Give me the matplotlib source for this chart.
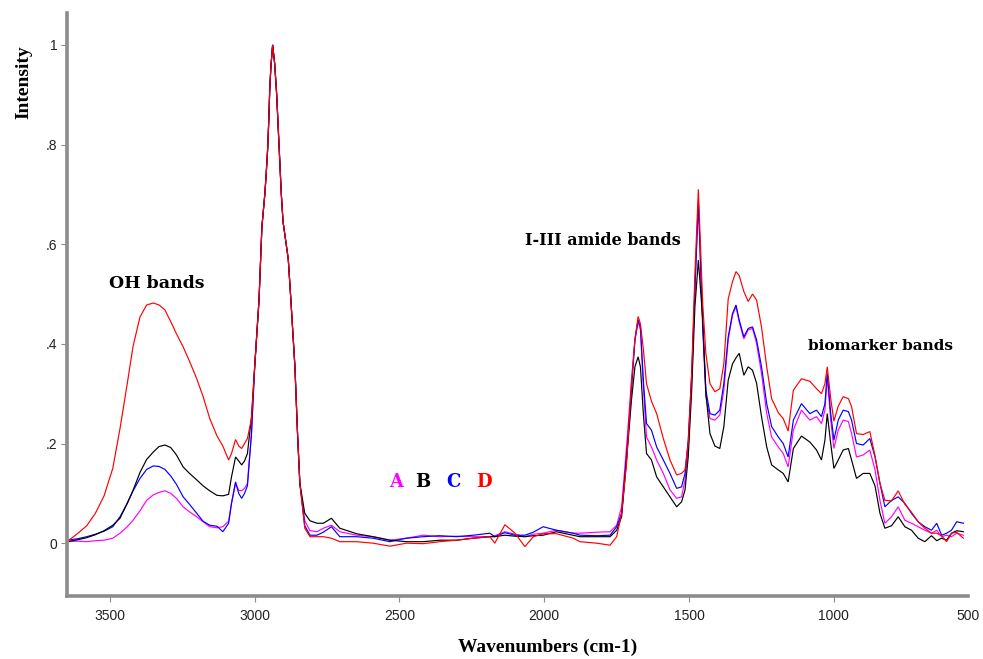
import matplotlib
matplotlib.use('Agg')
import matplotlib.pyplot as plt

# ---------------- data ----------------
wavenumber = [
    3648, 3610, 3580, 3550, 3520, 3490, 3465, 3440, 3420, 3396,
    3373, 3350, 3330, 3310, 3290, 3270, 3247, 3225, 3200, 3178,
    3155, 3130, 3110, 3090, 3080, 3066, 3055, 3045, 3035, 3025,
    3011,
    3000, 2985, 2975, 2965, 2960, 2955, 2951, 2948, 2944, 2938,
    2931, 2924, 2917, 2908, 2902, 2896, 2884, 2875, 2861, 2852,
    2844, 2827,
    2809, 2785, 2763, 2735, 2706, 2648, 2591, 2533, 2476, 2418,
    2361, 2303, 2245, 2188, 2171, 2136, 2101, 2067, 2038, 2004,
    1958, 1900, 1877,
    1819, 1773, 1750, 1733, 1716, 1699, 1687, 1676, 1668, 1658,
    1647, 1630, 1612, 1589, 1566, 1543, 1526, 1514, 1503, 1491,
    1480, 1468, 1453, 1442, 1428, 1411, 1394, 1380, 1365, 1350,
    1338, 1327, 1311, 1296, 1281, 1267, 1250, 1232, 1215, 1192,
    1175, 1158, 1140, 1112, 1083, 1060, 1043, 1031, 1023, 1011,
    1000, 985, 968, 950, 939, 922, 899, 876, 858, 841,
    824, 801, 778, 755, 732, 709, 686, 663, 645, 628,
    611, 594, 576, 553,
]

series_A = [  # magenta
    0.003, 0.004, 0.003, 0.005, 0.006, 0.010, 0.020, 0.033, 0.046, 0.065,
    0.086, 0.097, 0.102, 0.105, 0.100, 0.090, 0.073, 0.063, 0.053, 0.043,
    0.033, 0.031, 0.033, 0.044, 0.080, 0.120, 0.106, 0.105, 0.110, 0.120,
    0.220,
    0.354, 0.488, 0.635, 0.700, 0.743, 0.793, 0.853, 0.910, 0.956, 1.000,
    0.963, 0.900, 0.813, 0.700, 0.645, 0.620, 0.570, 0.488, 0.354, 0.220,
    0.120, 0.045,
    0.025, 0.023, 0.030, 0.036, 0.023, 0.016, 0.013, 0.006, 0.010, 0.016,
    0.013, 0.014, 0.013, 0.013, 0.015, 0.023, 0.018, 0.013, 0.018, 0.020,
    0.026, 0.020, 0.020,
    0.022, 0.023, 0.036, 0.073, 0.193, 0.327, 0.408, 0.444, 0.428, 0.314,
    0.213, 0.193, 0.167, 0.140, 0.107, 0.090, 0.093, 0.127, 0.193, 0.327,
    0.508, 0.690, 0.428, 0.294, 0.250, 0.247, 0.257, 0.307, 0.408, 0.458,
    0.475, 0.444, 0.410, 0.428, 0.431, 0.401, 0.341, 0.260, 0.213, 0.193,
    0.180, 0.153, 0.227, 0.267, 0.247, 0.254, 0.240, 0.267, 0.334, 0.247,
    0.190, 0.227, 0.247, 0.244, 0.220, 0.173, 0.177, 0.187, 0.147, 0.086,
    0.040, 0.053, 0.073, 0.046, 0.040, 0.033, 0.026, 0.020, 0.026, 0.013,
    0.016, 0.013, 0.020, 0.016,
]

series_B = [  # black
    0.003, 0.007, 0.011, 0.017, 0.025, 0.036, 0.050, 0.080, 0.106, 0.142,
    0.168, 0.183, 0.194, 0.197, 0.192, 0.177, 0.153, 0.140, 0.127, 0.115,
    0.105, 0.096, 0.095, 0.098, 0.133, 0.173, 0.165, 0.157, 0.165, 0.180,
    0.254,
    0.354, 0.488, 0.635, 0.700, 0.743, 0.793, 0.853, 0.910, 0.956, 1.000,
    0.963, 0.900, 0.813, 0.700, 0.645, 0.620, 0.570, 0.488, 0.354, 0.220,
    0.120, 0.060,
    0.045, 0.040, 0.040, 0.050, 0.030, 0.019, 0.013, 0.006, 0.003, 0.003,
    0.006, 0.006, 0.010, 0.013, 0.013, 0.016, 0.014, 0.013, 0.015, 0.016,
    0.023, 0.016, 0.013,
    0.013, 0.013, 0.026, 0.053, 0.167, 0.287, 0.354, 0.374, 0.354, 0.260,
    0.180, 0.167, 0.133, 0.113, 0.093, 0.073, 0.083, 0.107, 0.173, 0.307,
    0.474, 0.568, 0.450, 0.300, 0.220, 0.195, 0.190, 0.234, 0.327, 0.360,
    0.372, 0.381, 0.337, 0.354, 0.347, 0.321, 0.254, 0.193, 0.157, 0.147,
    0.140, 0.123, 0.190, 0.215, 0.203, 0.187, 0.167, 0.207, 0.260, 0.200,
    0.150, 0.167, 0.187, 0.190, 0.167, 0.130, 0.140, 0.140, 0.115, 0.060,
    0.030, 0.035, 0.053, 0.033, 0.026, 0.010, 0.003, 0.015, 0.005, 0.010,
    0.006, 0.020, 0.025, 0.023,
]

series_C = [  # blue
    0.006, 0.009, 0.013, 0.018, 0.024, 0.033, 0.053, 0.080, 0.105, 0.130,
    0.148, 0.155, 0.154, 0.148, 0.135, 0.118, 0.093, 0.078, 0.060, 0.044,
    0.036, 0.034, 0.023, 0.040, 0.080, 0.123, 0.100, 0.090, 0.100, 0.115,
    0.220,
    0.354, 0.488, 0.635, 0.700, 0.743, 0.793, 0.853, 0.910, 0.956, 1.000,
    0.963, 0.900, 0.813, 0.700, 0.645, 0.620, 0.570, 0.488, 0.354, 0.220,
    0.120, 0.035,
    0.016, 0.016, 0.022, 0.033, 0.013, 0.013, 0.010, 0.003, 0.010, 0.013,
    0.015, 0.013, 0.016, 0.020, 0.013, 0.021, 0.016, 0.016, 0.022, 0.033,
    0.026, 0.020, 0.016,
    0.015, 0.016, 0.033, 0.060, 0.173, 0.307, 0.408, 0.448, 0.434, 0.327,
    0.240, 0.227, 0.193, 0.167, 0.140, 0.110, 0.113, 0.140, 0.207, 0.341,
    0.508, 0.683, 0.441, 0.307, 0.260, 0.257, 0.267, 0.321, 0.414, 0.461,
    0.478, 0.448, 0.414, 0.431, 0.434, 0.408, 0.354, 0.280, 0.234, 0.213,
    0.200, 0.173, 0.247, 0.280, 0.260, 0.267, 0.254, 0.280, 0.341, 0.260,
    0.207, 0.247, 0.267, 0.264, 0.247, 0.200, 0.197, 0.210, 0.173, 0.120,
    0.073, 0.086, 0.093, 0.080, 0.060, 0.043, 0.033, 0.026, 0.040, 0.016,
    0.020, 0.026, 0.043, 0.040,
]

series_D = [  # red
    0.003, 0.020, 0.035, 0.060, 0.095, 0.150, 0.230, 0.320, 0.395, 0.454,
    0.478, 0.482, 0.478, 0.468, 0.445, 0.420, 0.394, 0.365, 0.330, 0.294,
    0.250, 0.215, 0.195, 0.167, 0.180, 0.208, 0.195, 0.190, 0.200, 0.210,
    0.250,
    0.354, 0.488, 0.635, 0.700, 0.743, 0.793, 0.853, 0.910, 0.956, 1.000,
    0.963, 0.900, 0.813, 0.700, 0.645, 0.620, 0.570, 0.488, 0.354, 0.220,
    0.120, 0.030,
    0.013, 0.013, 0.013, 0.010, 0.003, 0.003, 0.000, -0.006, 0.000, -0.001,
    0.003, 0.006, 0.010, 0.013, 0.000, 0.037, 0.020, -0.007, 0.013, 0.019,
    0.019, 0.010, 0.003,
    0.000, -0.004, 0.013, 0.060, 0.160, 0.320, 0.410, 0.455, 0.440, 0.390,
    0.320, 0.285, 0.260, 0.210, 0.167, 0.137, 0.140, 0.147, 0.200, 0.341,
    0.541, 0.710, 0.480, 0.380, 0.320, 0.304, 0.310, 0.360, 0.490, 0.525,
    0.545, 0.537, 0.505, 0.485, 0.500, 0.488, 0.434, 0.354, 0.290, 0.262,
    0.250, 0.225, 0.307, 0.330, 0.325, 0.310, 0.300, 0.320, 0.354, 0.290,
    0.245, 0.275, 0.294, 0.290, 0.274, 0.220, 0.218, 0.224, 0.175, 0.120,
    0.086, 0.085, 0.105, 0.078, 0.062, 0.043, 0.030, 0.020, 0.020, 0.015,
    0.003, 0.020, 0.022, 0.010,
]

series_names = ['A', 'B', 'C', 'D']
series_colors = ['#ff00ff', '#000000', '#0000ff', '#ff0000']

x_tick_values = [3500, 3000, 2500, 2000, 1500, 1000]
x_tick_labels = ['3500', '3000', '2500', '2000', '1500', '1000']
y_tick_values = [0, 0.2, 0.4, 0.6, 0.8, 1.0]
y_tick_labels = ['0', '.2', '.4', '.6', '.8', '1']

annotations = [
    ('OH bands', 3338, 0.522, 12.5),
    ('I-III amide bands', 1798, 0.608, 11.5),
    ('biomarker bands', 838, 0.395, 11),
]
legend_positions = [2512, 2419, 2312, 2209]

for s in (series_A, series_B, series_C, series_D):
    assert len(s) == len(wavenumber)

# ---------------- figure ----------------
plt.rcParams['font.family'] = ['Liberation Sans', 'DejaVu Sans']

fig = plt.figure(figsize=(9.83, 6.59), dpi=100)
ax = fig.add_axes([67 / 983, 1 - 596 / 659, (968 - 67) / 983, (596 - 13) / 659])

data = {'A': series_A, 'B': series_B, 'C': series_C, 'D': series_D}
for name in ['A', 'C', 'B', 'D']:
    col = series_colors[series_names.index(name)]
    ax.plot(wavenumber, data[name], color=col, lw=0.85, solid_joinstyle='miter')

ax.set_xlim(3648, 537)
ax.set_ylim(-0.106, 1.064)

for side in ('top', 'right'):
    ax.spines[side].set_visible(False)
for side in ('left', 'bottom'):
    ax.spines[side].set_color('#8c8c8c')
    ax.spines[side].set_linewidth(2.6)

ax.set_xticks(x_tick_values + [537])
ax.set_xticklabels(x_tick_labels + ['500'])
ax.xaxis.get_major_ticks()[-1].tick1line.set_visible(False)
ax.set_yticks(y_tick_values)
ax.set_yticklabels(y_tick_labels)
ax.tick_params(direction='out', length=4, width=0.8, color='#8c8c8c',
               labelsize=10, labelcolor='#222222')
ax.tick_params(axis='x', pad=5)
ax.tick_params(axis='y', pad=3)

serif = ['Liberation Serif', 'DejaVu Serif']
fig.text(24 / 983, 1 - 82 / 659, 'Intensity', rotation=90, ha='center', va='center',
         fontsize=14, fontweight='bold', family=serif)
fig.text(548 / 983, 1 - 647 / 659, 'Wavenumbers (cm-1)', ha='center', va='center',
         fontsize=14, fontweight='bold', family=serif)

for txt, xv, yv, fs in annotations:
    ax.text(xv, yv, txt, ha='center', va='center', fontsize=fs,
            fontweight='bold', family=['DejaVu Serif'])

for name, col, xv in zip(series_names, series_colors, legend_positions):
    ax.text(xv, 0.122, name, color=col, ha='center', va='center', fontsize=13,
            fontweight='bold', family=['DejaVu Serif'])

fig.savefig('out.png', dpi=100)
